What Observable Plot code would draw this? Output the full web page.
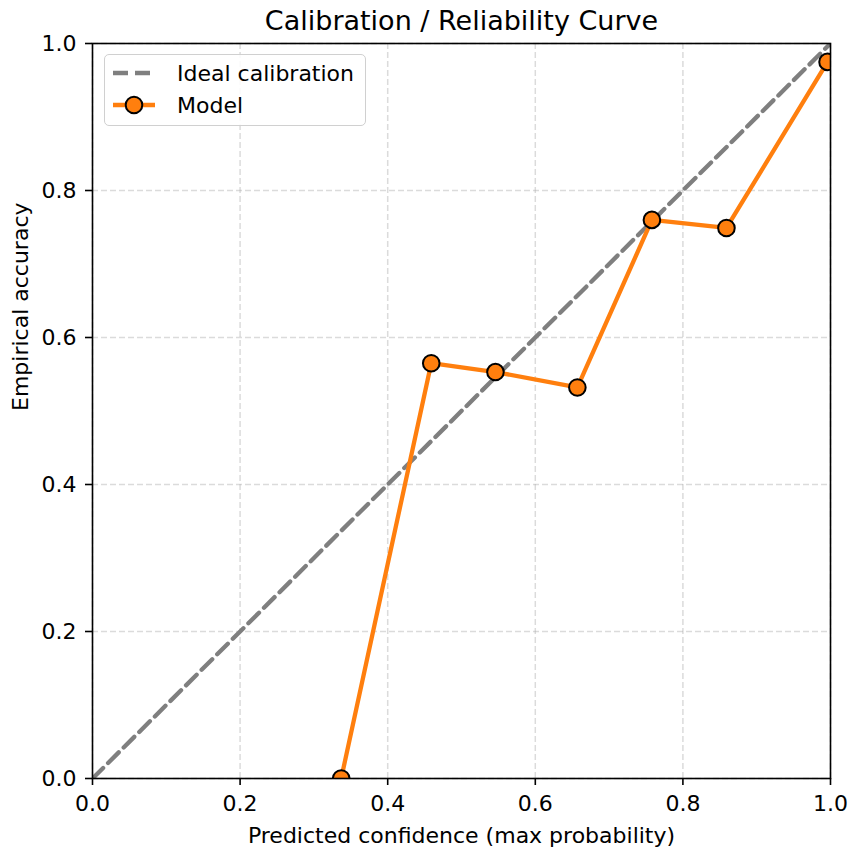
<!DOCTYPE html>
<html><head><meta charset="utf-8">
<script src="https://cdn.jsdelivr.net/npm/d3@7"></script>
<script src="https://cdn.jsdelivr.net/npm/@observablehq/plot@0.6"></script>
<style>
body{margin:0;background:#fff;font-family:"DejaVu Sans",sans-serif;}
#wrap{position:relative;width:851px;height:850px;}
#legend{position:absolute;left:104px;top:54px;width:262px;height:72px;box-sizing:border-box;border:1.5px solid #d0d0d0;border-radius:5px;background:rgba(255,255,255,0.85);}
#legend svg{position:absolute;left:0;top:0;}
</style>
</head><body><div id="wrap"></div>
<script>
const confidence = [0.337, 0.459, 0.546, 0.657, 0.758, 0.859, 0.996];
const accuracy   = [0.000, 0.565, 0.553, 0.532, 0.760, 0.749, 0.975];
const idealX = [0, 1];
const idealY = [0, 1];
const tickValues = [0, 0.2, 0.4, 0.6, 0.8, 1.0];
const titleText = "Calibration / Reliability Curve";
const xLabel = "Predicted confidence (max probability)";
const yLabel = "Empirical accuracy";
const seriesNames = ["Ideal calibration", "Model"];

const model = confidence.map((c, i) => ({x: c, y: accuracy[i]}));
const ideal = idealX.map((v, i) => ({x: v, y: idealY[i]}));

const chart = Plot.plot({
  width: 851, height: 850,
  marginLeft: 92, marginRight: 21, marginTop: 43, marginBottom: 72,
  style: {fontFamily: "DejaVu Sans", fontSize: "22px", background: "#fff", color: "#000"},
  x: {domain: [0, 1]},
  y: {domain: [0, 1]},
  marks: [
    Plot.gridX(tickValues, {stroke: "#b0b0b0", strokeOpacity: 0.45, strokeWidth: 1.5, strokeDasharray: "6,3"}),
    Plot.gridY(tickValues, {stroke: "#b0b0b0", strokeOpacity: 0.45, strokeWidth: 1.5, strokeDasharray: "6,3"}),
    Plot.axisX({ticks: tickValues, tickFormat: d3.format(".1f"), tickSize: 7, tickPadding: 10, strokeWidth: 1.6, fontSize: 22, label: null}),
    Plot.axisY({ticks: tickValues, tickFormat: d3.format(".1f"), tickSize: 7, tickPadding: 9, strokeWidth: 1.6, fontSize: 22, label: null}),
    Plot.line(ideal, {x: "x", y: "y", stroke: "#7f7f7f", strokeWidth: 4.3, strokeDasharray: "15,7", clip: true}),
    Plot.line(model, {x: "x", y: "y", stroke: "#ff7f0e", strokeWidth: 4.3, clip: true}),
    Plot.dot(model, {x: "x", y: "y", r: 8.3, fill: "#ff7f0e", stroke: "#000", strokeWidth: 2, clip: true}),
    Plot.frame({stroke: "#000", strokeWidth: 1.6}),
    Plot.text([titleText], {frameAnchor: "top", lineAnchor: "middle", dy: -22, fontSize: 27, text: d => d, fill: "#000"}),
    Plot.text([xLabel], {frameAnchor: "bottom", lineAnchor: "middle", dy: 57, fontSize: 22, text: d => d, fill: "#000"}),
    Plot.text([yLabel], {frameAnchor: "left", lineAnchor: "middle", dx: -72, rotate: -90, fontSize: 22, text: d => d, fill: "#000"})
  ]
});
const wrap = document.getElementById("wrap");
wrap.appendChild(chart);

const legend = document.createElement("div");
legend.id = "legend";
legend.innerHTML = `<svg width="262" height="72">
  <line x1="8" x2="50" y1="18" y2="18" stroke="#7f7f7f" stroke-width="4.3" stroke-dasharray="15,7"/>
  <text x="72" y="18" dy="0.35em" font-size="22" font-family="DejaVu Sans">${seriesNames[0]}</text>
  <line x1="8" x2="50" y1="50" y2="50" stroke="#ff7f0e" stroke-width="4.3"/>
  <circle cx="29" cy="50" r="8.3" fill="#ff7f0e" stroke="#000" stroke-width="2"/>
  <text x="72" y="50" dy="0.35em" font-size="22" font-family="DejaVu Sans">${seriesNames[1]}</text>
</svg>`;
wrap.appendChild(legend);
</script>
</body></html>
